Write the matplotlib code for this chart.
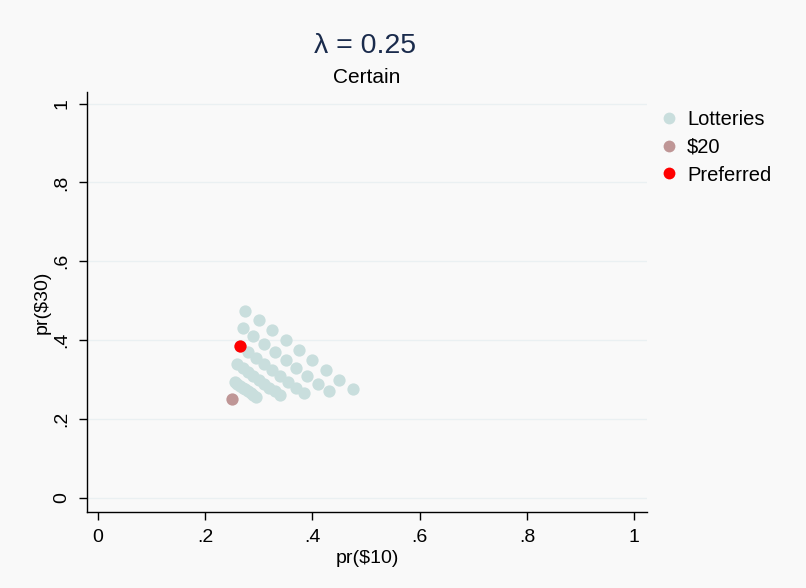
import matplotlib
matplotlib.use("Agg")
import matplotlib.pyplot as plt
from matplotlib.lines import Line2D

plt.rcParams['font.family'] = ['Liberation Sans', 'DejaVu Sans']

# Lottery points: pr($10), pr($30)
lot_p10 = [0.275, 0.300, 0.325, 0.350, 0.375, 0.400, 0.425, 0.450, 0.475,
           0.270, 0.290, 0.310, 0.330, 0.350, 0.370, 0.390, 0.410, 0.430,
           0.265, 0.280, 0.295, 0.310, 0.325, 0.340, 0.355, 0.370, 0.385,
           0.260, 0.270, 0.280, 0.290, 0.300, 0.310, 0.320, 0.330, 0.340,
           0.255, 0.260, 0.265, 0.270, 0.275, 0.280, 0.285, 0.290, 0.295]
lot_p30 = [0.475, 0.450, 0.425, 0.400, 0.375, 0.350, 0.325, 0.300, 0.275,
           0.430, 0.410, 0.390, 0.370, 0.350, 0.330, 0.310, 0.290, 0.270,
           0.385, 0.370, 0.355, 0.340, 0.325, 0.310, 0.295, 0.280, 0.265,
           0.340, 0.330, 0.320, 0.310, 0.300, 0.290, 0.280, 0.270, 0.260,
           0.295, 0.290, 0.285, 0.280, 0.275, 0.270, 0.265, 0.260, 0.255]
certain_p10 = [0.25]
certain_p30 = [0.25]
pref_p10 = [0.265]
pref_p30 = [0.385]

ticks = [0, 0.2, 0.4, 0.6, 0.8, 1]
tick_labels = ["0", ".2", ".4", ".6", ".8", "1"]

bg = "#f9f9f9"
col_lot = "#c9dedd"
col_cert = "#bf9696"
col_pref = "#ff0000"

fig = plt.figure(figsize=(8.06, 5.88), dpi=100, facecolor=bg)
ax = fig.add_axes([0.108, 0.129, 0.695, 0.715], facecolor=bg)

ms = 78
ax.scatter(lot_p10, lot_p30, s=ms, color=col_lot, linewidths=0, zorder=3)
ax.scatter(certain_p10, certain_p30, s=ms, color=col_cert, linewidths=0, zorder=4)
ax.scatter(pref_p10, pref_p30, s=ms, color=col_pref, linewidths=0, zorder=5)

ax.set_xlim(-0.02, 1.024)
ax.set_ylim(-0.036, 1.03)
ax.set_xticks(ticks)
ax.set_xticklabels(tick_labels, fontsize=14)
ax.set_yticks(ticks)
ax.set_yticklabels(tick_labels, fontsize=14, rotation=90, va="center")
ax.tick_params(axis="both", direction="out", length=6, width=1, color="black", pad=6)

ax.grid(axis="y", color="#eaf0f2", linewidth=1)
ax.grid(axis="x", visible=False)
ax.set_axisbelow(True)
for s in ["top", "right"]:
    ax.spines[s].set_visible(False)
for s in ["left", "bottom"]:
    ax.spines[s].set_linewidth(1)
    ax.spines[s].set_color("black")

ax.set_xlabel("pr(\\$10)", fontsize=14, labelpad=3)
ax.set_ylabel("pr(\\$30)", fontsize=14, labelpad=2)

fig.text(0.453, 0.922, "λ = 0.25", fontsize=20.5, color="#1a2b4c", ha="center", va="center")
fig.text(0.455, 0.868, "Certain", fontsize=15, color="black", ha="center", va="center")

handles = [Line2D([], [], marker="o", linestyle="none", markersize=8.5, markerfacecolor=c, markeredgewidth=0)
           for c in (col_lot, col_cert, col_pref)]
leg = fig.legend(handles, ["Lotteries", "$20", "Preferred"], loc="upper left",
                 bbox_to_anchor=(0.805, 0.827), frameon=False, fontsize=14.5,
                 handletextpad=0.3, labelspacing=0.44, borderaxespad=0, handlelength=1.2)

fig.savefig("out.png", dpi=100, facecolor=bg)
